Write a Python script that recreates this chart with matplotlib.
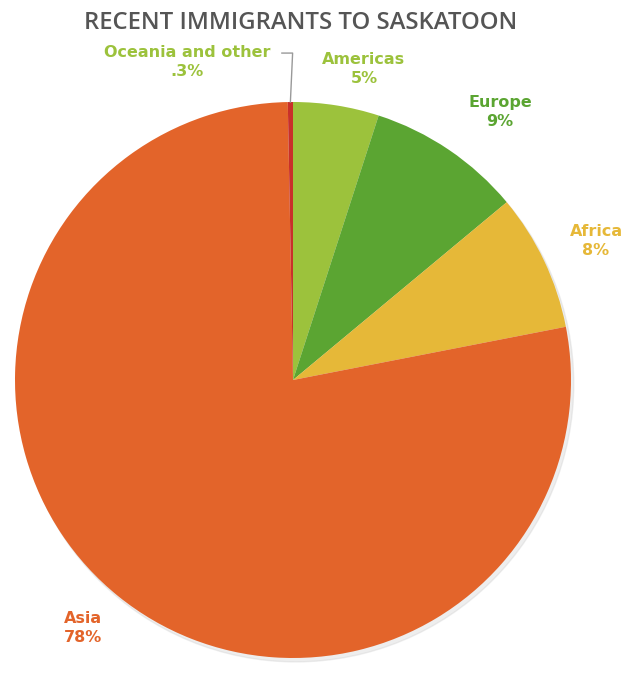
import numpy as np
import matplotlib
matplotlib.use('Agg')
import matplotlib.pyplot as plt
from matplotlib.patches import Circle

regions = ['Americas', 'Europe', 'Africa', 'Asia', 'Oceania and other']
shares = [5, 9, 8, 78, 0.3]
share_labels = ['5%', '9%', '8%', '78%', '.3%']
colors = ['#9cc23c', '#5ba532', '#e6b838', '#e3642a', '#c9302a']
label_colors = ['#9cc23c', '#5ba532', '#e6b838', '#e3642a', '#9cc23c']
# label centres in pie units (radius = 1)
label_pos = [(0.255, 1.119), (0.745, 0.964), (1.090, 0.500),
             (-0.755, -0.892), (-0.381, 1.144)]

fig = plt.figure(figsize=(6.35, 6.75), dpi=100)
ax = fig.add_axes([0, 0, 1, 1])

# soft drop shadow
ax.add_patch(Circle((0.010, -0.014), 1.0, color='#c8c8c8', alpha=0.3, zorder=0))

wedges, _ = ax.pie(shares, colors=colors, startangle=90, counterclock=False,
                   radius=1.0, wedgeprops=dict(linewidth=0))

for i, name in enumerate(regions):
    x, y = label_pos[i]
    ax.text(x, y, name + '\n' + share_labels[i], color=label_colors[i],
            fontsize=11.5, fontweight='bold', ha='center', va='center',
            multialignment='center', linespacing=1.35)

# leader line for the tiny slice
w = wedges[-1]
theta = np.deg2rad((w.theta1 + w.theta2) / 2)
ex, ey = np.cos(theta), np.sin(theta)
ty = 1.176
ax.plot([-0.04, ex + 0.008, ex], [ty, ty, ey], color='#999999', lw=1)

fig.text(0.474, 0.966, 'RECENT IMMIGRANTS TO SASKATOON', ha='center', va='center',
         fontsize=17.2, color='#555555', family='Open Sans', fontweight='semibold')

ax.set_aspect('auto')
ax.set_xlim(-293 / 278, (635 - 293) / 278)
ax.set_ylim((380 - 675) / 278, 380 / 278)
ax.axis('off')

fig.savefig('out.png', dpi=100)
